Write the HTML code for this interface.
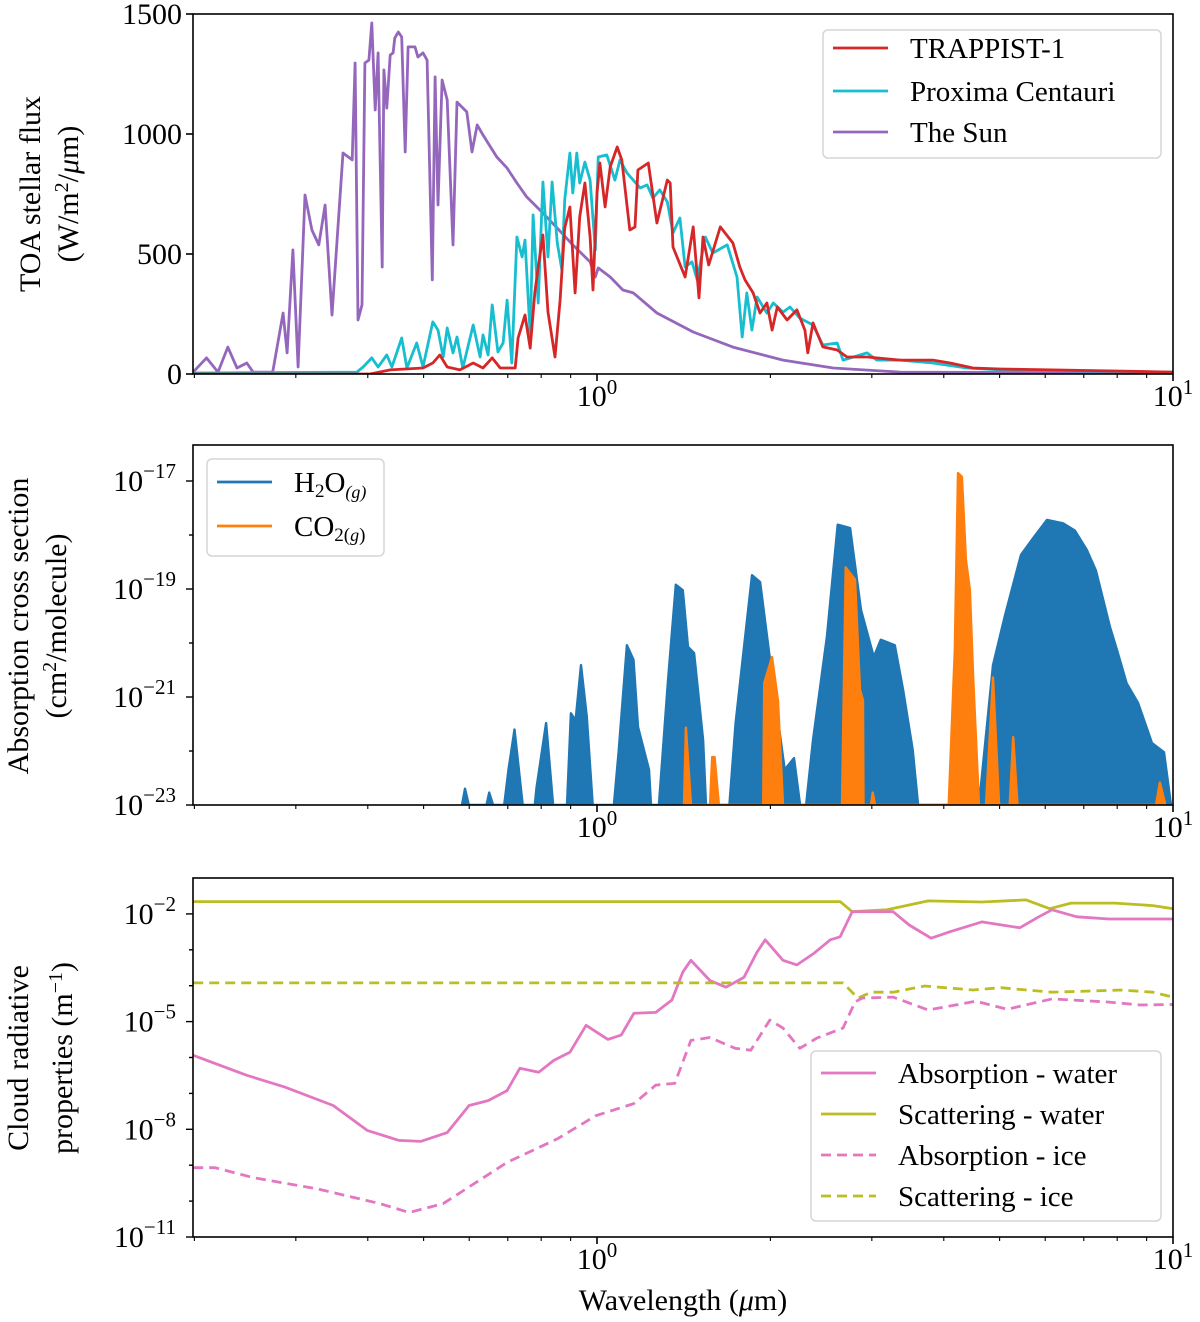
<!DOCTYPE html>
<html><head><meta charset="utf-8"><style>
html,body{margin:0;padding:0;background:#fff;}
svg{display:block;font-family:"Liberation Serif","DejaVu Serif",serif;}
</style></head><body>
<svg id="chart" xmlns="http://www.w3.org/2000/svg" width="1200" height="1322" viewBox="0 0 1200 1322">
<g id="layer-marks"></g>
<g id="layer-axes"></g>
</svg>
<script>
// ---------- DATA ----------
// Panel 1: TOA stellar flux (log10 wavelength in µm, flux in W/m2/µm)
const sunLogWl = [-0.701,-0.678,-0.658,-0.641,-0.625,-0.608,-0.597,-0.563,-0.545,-0.538,-0.528,-0.519,-0.507,-0.495,-0.483,-0.472,-0.460,-0.441,-0.425,-0.420,-0.415,-0.408,-0.403,-0.396,-0.391,-0.385,-0.380,-0.373,-0.370,-0.365,-0.359,-0.354,-0.351,-0.345,-0.339,-0.333,-0.328,-0.316,-0.311,-0.302,-0.295,-0.286,-0.281,-0.276,-0.269,-0.260,-0.250,-0.243,-0.226,-0.217,-0.208,-0.198,-0.174,-0.156,-0.139,-0.122,-0.099,-0.069,-0.042,-0.012,-0.003,0.002,0.023,0.045,0.063,0.104,0.167,0.236,0.323,0.410,0.526,1.0];
const sunFlux = [8,67,8,112,25,46,8,8,254,88,517,29,746,600,538,704,246,921,892,1296,225,288,1296,1308,1463,1100,1338,446,1267,1108,1329,1338,1400,1425,1404,925,1363,1363,1321,1338,1308,392,1238,704,1225,1142,538,1133,1092,925,1038,996,904,858,796,738,683,608,538,467,404,442,404,350,338,254,175,112,58,25,8,4];
const proxLogWl = [-0.701,-0.417,-0.406,-0.391,-0.380,-0.365,-0.356,-0.339,-0.330,-0.313,-0.302,-0.285,-0.276,-0.267,-0.260,-0.250,-0.243,-0.233,-0.215,-0.203,-0.198,-0.189,-0.182,-0.172,-0.163,-0.156,-0.148,-0.139,-0.130,-0.125,-0.116,-0.111,-0.102,-0.094,-0.085,-0.078,-0.069,-0.061,-0.056,-0.047,-0.042,-0.035,-0.030,-0.021,-0.012,-0.003,0.002,0.017,0.031,0.040,0.052,0.075,0.087,0.097,0.109,0.122,0.132,0.144,0.153,0.165,0.174,0.188,0.201,0.226,0.243,0.252,0.260,0.269,0.278,0.295,0.306,0.323,0.335,0.352,0.375,0.392,0.417,0.427,0.469,0.486,0.526,0.583,0.642,0.700,1.0];
const proxFlux = [4,8,29,67,29,79,29,150,25,129,29,217,183,71,192,88,154,25,204,71,163,79,288,92,129,308,46,571,488,558,163,663,296,800,488,800,546,433,725,921,754,921,796,883,808,517,904,913,808,892,838,775,788,733,767,717,588,650,446,467,392,571,504,538,404,154,338,183,321,254,296,258,279,233,204,121,129,58,88,58,58,46,25,17,8];
const trapLogWl = [-0.701,-0.394,-0.359,-0.302,-0.285,-0.273,-0.260,-0.238,-0.215,-0.198,-0.182,-0.168,-0.142,-0.137,-0.125,-0.116,-0.108,-0.102,-0.094,-0.085,-0.073,-0.064,-0.056,-0.047,-0.038,-0.030,-0.021,-0.012,-0.007,0,0.005,0.014,0.023,0.035,0.043,0.057,0.066,0.071,0.089,0.104,0.122,0.127,0.132,0.153,0.167,0.177,0.184,0.194,0.214,0.236,0.248,0.257,0.271,0.283,0.295,0.304,0.313,0.330,0.347,0.361,0.366,0.375,0.392,0.417,0.434,0.469,0.526,0.583,0.613,0.653,0.700,1.0];
const trapFlux = [0,0,17,25,46,79,29,17,46,25,67,25,25,150,246,108,338,446,579,258,71,308,608,696,338,654,796,571,350,754,879,696,863,946,892,600,613,850,879,629,808,796,529,404,613,317,571,454,613,546,446,392,338,254,296,183,279,225,267,183,88,213,113,100,71,71,58,58,46,25,21,8];
const fluxTicks = [0,500,1000,1500];

// Panel 2: absorption cross sections (wavelength µm, cm2/molecule)
const h2oWl = [0.583,0.590,0.599,0.643,0.650,0.660,0.690,0.702,0.719,0.743,0.780,0.785,0.816,0.839,0.887,0.901,0.918,0.938,0.960,0.983,1.070,1.090,1.127,1.157,1.178,1.231,1.241,1.281,1.327,1.370,1.409,1.439,1.474,1.528,1.546,1.698,1.740,1.858,1.919,2.021,2.118,2.198,2.252,2.307,2.371,2.507,2.617,2.750,2.873,3.024,3.110,3.289,3.399,3.532,3.609,4.605,4.870,5.110,5.447,5.713,6.042,6.442,6.758,7.090,7.349,7.772,7.993,8.307,8.696,9.195,9.647,9.92];
const h2oSigma = [1e-23,2.0e-23,1e-23,1e-23,1.7e-23,1e-23,1e-23,4.5e-23,2.5e-22,1e-23,1e-23,2.0e-23,3.3e-22,1e-23,1e-23,5.0e-22,3.7e-22,3.9e-21,4.3e-22,1e-23,1e-23,9.5e-23,9.1e-21,4.9e-21,2.8e-22,4.5e-23,1e-23,1e-23,1.8e-21,1.2e-19,9.5e-20,8.5e-21,6.5e-21,1.6e-22,1e-23,1e-23,3.3e-22,1.8e-19,1.35e-19,1.8e-21,4.5e-23,7.4e-23,1e-23,1e-23,1.6e-22,1.3e-20,1.55e-18,1.35e-18,4.1e-20,5.5e-21,1.15e-20,9.1e-21,1.35e-21,1.05e-22,1e-23,1e-23,3.9e-21,3.3e-20,4.3e-19,8.7e-19,1.9e-18,1.65e-18,1.2e-18,5.2e-19,2.2e-19,2.0e-20,7.4e-21,1.8e-21,7.8e-22,1.4e-22,9.5e-23,1e-23];
const co2Wl = [1.416,1.427,1.456,1.571,1.585,1.600,1.628,1.943,1.951,2.013,2.062,2.103,2.663,2.703,2.805,2.862,2.896,2.902,2.990,3.010,3.040,4.080,4.180,4.234,4.300,4.370,4.440,4.500,4.605,4.735,4.870,4.990,5.205,5.280,5.370,9.343,9.490,9.700];
const co2Sigma = [1e-23,2.7e-22,1e-23,1e-23,7.7e-23,7.7e-23,1e-23,1e-23,1.8e-21,5.5e-21,8.5e-22,1e-23,1e-23,2.5e-19,1.5e-19,1.35e-21,8.7e-22,1e-23,1e-23,1.7e-23,1e-23,1e-23,7.4e-21,1.4e-17,1.2e-17,3.5e-19,9.5e-20,2.0e-21,1e-23,1e-23,2.3e-21,1e-23,1e-23,1.8e-22,1e-23,1e-23,2.6e-23,1e-23];
const sigmaTickExp = [-23,-21,-19,-17];

// Panel 3: cloud radiative properties (log10 wavelength µm, m^-1)
const absWaterLogWl = [-0.701,-0.608,-0.542,-0.458,-0.399,-0.344,-0.306,-0.260,-0.222,-0.189,-0.156,-0.134,-0.101,-0.075,-0.047,-0.019,0.019,0.042,0.064,0.102,0.130,0.149,0.163,0.196,0.224,0.255,0.278,0.292,0.323,0.347,0.377,0.405,0.422,0.443,0.514,0.542,0.580,0.613,0.668,0.734,0.767,0.790,0.833,0.889,1.0];
const absWater = [1.15e-6,3.2e-7,1.5e-7,4.6e-8,9.3e-9,4.9e-9,4.6e-9,8.1e-9,4.6e-8,6.3e-8,1.2e-7,5.0e-7,3.9e-7,8.3e-7,1.4e-6,7.9e-6,3.2e-6,4.2e-6,1.7e-5,1.8e-5,4.0e-5,2.4e-4,5.1e-4,1.4e-4,9.1e-5,1.7e-4,8.7e-4,1.9e-3,5.1e-4,3.8e-4,8.1e-4,1.9e-3,2.3e-3,1.15e-2,1.15e-2,4.9e-3,2.1e-3,3.2e-3,6.0e-3,4.1e-3,8.3e-3,1.3e-2,8.3e-3,7.2e-3,7.2e-3];
const scaWaterLogWl = [-0.701,0.300,0.422,0.443,0.503,0.575,0.668,0.745,0.786,0.823,0.899,0.965,1.0];
const scaWater = [2.2e-2,2.2e-2,2.2e-2,1.15e-2,1.3e-2,2.3e-2,2.15e-2,2.45e-2,1.4e-2,2.0e-2,2.0e-2,1.7e-2,1.4e-2];
const absIceLogWl = [-0.701,-0.663,-0.597,-0.486,-0.377,-0.326,-0.267,-0.156,-0.068,-0.002,0.064,0.102,0.135,0.163,0.196,0.240,0.267,0.300,0.323,0.352,0.382,0.427,0.448,0.460,0.514,0.575,0.658,0.712,0.790,0.889,0.944,1.0];
const absIce = [8.5e-10,8.5e-10,4.5e-10,2.2e-10,8.5e-11,4.8e-11,8.5e-11,1.2e-9,5.5e-9,2.4e-8,5.2e-8,1.7e-7,1.9e-7,3.0e-6,3.6e-6,1.8e-6,1.6e-6,1.1e-5,6.6e-6,1.8e-6,3.5e-6,6.6e-6,3.5e-5,4.5e-5,4.8e-5,2.1e-5,3.7e-5,2.2e-5,4.3e-5,3.5e-5,2.9e-5,3.0e-5];
const scaIceLogWl = [-0.701,0.427,0.453,0.476,0.514,0.569,0.653,0.701,0.790,0.911,0.965,1.0];
const scaIce = [1.2e-4,1.2e-4,4.5e-5,6.6e-5,6.6e-5,9.8e-5,7.6e-5,8.8e-5,6.6e-5,7.6e-5,6.6e-5,4.8e-5];
const cloudTickExp = [-11,-8,-5,-2];

// ---------- AXES ----------
const NS='http://www.w3.org/2000/svg';
const X0=193, X1=1173, DEC=576, XC=597;
function xLog(lw){return XC+lw*DEC;}
function xWl(w){return XC+Math.log10(w)*DEC;}
const P1={top:14,bottom:374}, P2={top:445,bottom:805}, P3={top:878,bottom:1237};
function y1(v){return P1.bottom-v*(P1.bottom-P1.top)/1500;}
function y2(v){return P2.bottom-(Math.log10(v)+23)*54;}
function y3(v){return P3.bottom-(Math.log10(v)+11)*35.9;}
const marks=document.getElementById('layer-marks');
const axes=document.getElementById('layer-axes');
function mk(tag,attrs,parent){const e=document.createElementNS(NS,tag);for(const k in attrs)e.setAttribute(k,attrs[k]);(parent||marks).appendChild(e);return e;}

function clip(id,p){const d=mk('clipPath',{id:id});mk('rect',{x:X0,y:p.top,width:X1-X0,height:p.bottom-p.top},d);}
clip('c1',P1);clip('c2',P2);clip('c3',P3);

function line(xs,ys,fx,fy,color,name,dash,cl){
  const pts=xs.map((v,i)=>fx(v).toFixed(1)+','+fy(ys[i]).toFixed(1)).join(' ');
  const el=mk('polyline',{points:pts,fill:'none',stroke:color,'stroke-width':2.8,'stroke-linejoin':'round','clip-path':'url(#'+cl+')'});
  if(dash)el.setAttribute('stroke-dasharray',dash);
  
  
}
function area(xs,ys,fx,fy,color,name,cl,base){
  let pts=fx(xs[0]).toFixed(1)+','+base+' ';
  pts+=xs.map((v,i)=>fx(v).toFixed(1)+','+fy(ys[i]).toFixed(1)).join(' ');
  pts+=' '+fx(xs[xs.length-1]).toFixed(1)+','+base;
  const el=mk('polygon',{points:pts,fill:color,stroke:color,'stroke-width':2.4,'stroke-linejoin':'round','clip-path':'url(#'+cl+')'});
  
  
}

// Panel 1
line(sunLogWl,sunFlux,xLog,y1,'#9467bd','sun-spectrum',null,'c1');
line(proxLogWl,proxFlux,xLog,y1,'#17becf','proxima-centauri-spectrum',null,'c1');
line(trapLogWl,trapFlux,xLog,y1,'#d62728','trappist-1-spectrum',null,'c1');
// Panel 2
area(h2oWl,h2oSigma,xWl,y2,'#1f77b4','h2o-cross-section','c2',P2.bottom);
area(co2Wl,co2Sigma,xWl,y2,'#ff7f0e','co2-cross-section','c2',P2.bottom);
// Panel 3
line(scaWaterLogWl,scaWater,xLog,y3,'#bcbd22','scattering-water-line',null,'c3');
line(absWaterLogWl,absWater,xLog,y3,'#e377c2','absorption-water-line',null,'c3');
line(scaIceLogWl,scaIce,xLog,y3,'#bcbd22','scattering-ice-line','10,6','c3');
line(absIceLogWl,absIce,xLog,y3,'#e377c2','absorption-ice-line','10,6','c3');

function txt(x,y,s,size,anchor,name,parent){const t=mk('text',{x:x,y:y,'font-size':size,'text-anchor':anchor||'start',fill:'#000'},parent||axes);t.innerHTML=s;return t;}

function frame(p,name){
  const r=mk('rect',{x:X0,y:p.top,width:X1-X0,height:p.bottom-p.top,fill:'none',stroke:'#000','stroke-width':1.6},axes);
  
  
  for(let d=-1;d<=1;d++){for(let m=1;m<10;m++){const lw=d+Math.log10(m);const x=xLog(lw);if(x<X0-0.5||x>X1+0.5)continue;
    const major=(m===1);mk('line',{x1:x,x2:x,y1:p.bottom,y2:p.bottom+(major?7:4),stroke:'#000','stroke-width':major?1.6:1.1},axes);}}
  txt(xLog(0),p.bottom+32,'10<tspan dy="-12" font-size="21">0</tspan>',30,'middle','x-tick-label-1e0');
  txt(xLog(1),p.bottom+32,'10<tspan dy="-12" font-size="21">1</tspan>',30,'middle','x-tick-label-1e1');
}
frame(P1,'panel-flux-frame');frame(P2,'panel-cross-section-frame');frame(P3,'panel-cloud-frame');

fluxTicks.forEach(v=>{const y=y1(v);mk('line',{x1:X0-7,x2:X0,y1:y,y2:y,stroke:'#000','stroke-width':1.6},axes);txt(182,y+10,String(v),30,'end','flux-tick-label');});
for(let e=-23;e<=-17;e++){const y=y2(Math.pow(10,e));mk('line',{x1:X0-(e%2?7:4),x2:X0,y1:y,y2:y,stroke:'#000','stroke-width':1.4},axes);}
sigmaTickExp.forEach(e=>{const y=y2(Math.pow(10,e));txt(176,y+10,'10<tspan dy="-13" font-size="21">−'+(-e)+'</tspan>',30,'end','sigma-tick-label');});
for(let e=-11;e<=-2;e++){const y=y3(Math.pow(10,e));if(y<P3.top)continue;mk('line',{x1:X0-((e+11)%3===0?7:4),x2:X0,y1:y,y2:y,stroke:'#000','stroke-width':1.4},axes);}
cloudTickExp.forEach(e=>{const y=y3(Math.pow(10,e));txt(176,y+10,'10<tspan dy="-13" font-size="21">−'+(-e)+'</tspan>',30,'end','cloud-tick-label');});

function vtxt(x,y,s,name){const t=txt(0,0,s,30,'middle',name);t.setAttribute('transform','translate('+x+','+y+') rotate(-90)');}
vtxt(40,194,'TOA stellar flux','flux-axis-title');
vtxt(78,194,'(W/m<tspan dy="-10" font-size="20">2</tspan><tspan dy="10">/</tspan><tspan font-style="italic">μ</tspan>m)','flux-axis-units');
vtxt(28,626,'Absorption cross section','cross-section-axis-title');
vtxt(66,626,'(cm<tspan dy="-10" font-size="20">2</tspan><tspan dy="10">/molecule)</tspan>','cross-section-axis-units');
vtxt(28,1058,'Cloud radiative','cloud-axis-title');
vtxt(72,1058,'properties (m<tspan dy="-10" font-size="20">−1</tspan><tspan dy="10">)</tspan>','cloud-axis-units');
txt(683,1310,'Wavelength (<tspan font-style="italic">μ</tspan>m)','30','middle','x-axis-title');

function legend(x,y,w,h,items,name){
  const g=mk('g',{},axes);
  mk('rect',{x:x,y:y,width:w,height:h,rx:5,fill:'#fff','fill-opacity':0.85,stroke:'#d6d6d6','stroke-width':1.5},g);
  items.forEach(it=>{
    const l=mk('line',{x1:x+10,x2:x+65,y1:it.y,y2:it.y,stroke:it.c,'stroke-width':2.8},g);
    if(it.dash)l.setAttribute('stroke-dasharray','10,6');
    txt(x+87,it.y+10,it.t,29,'start','legend-entry',g);
  });
}
legend(823,30,338,128,[{y:48,c:'#d62728',t:'TRAPPIST-1'},{y:91,c:'#17becf',t:'Proxima Centauri'},{y:132,c:'#9467bd',t:'The Sun'}],'flux-legend');
legend(207,459,177,97,[{y:482,c:'#1f77b4',t:'H<tspan dy="5" font-size="19">2</tspan><tspan dy="-5">O</tspan><tspan dy="6" font-size="18" font-style="italic">(g)</tspan>'},{y:526,c:'#ff7f0e',t:'CO<tspan dy="5" font-size="19">2(</tspan><tspan font-size="18" font-style="italic">g</tspan><tspan font-size="19">)</tspan>'}],'cross-section-legend');
legend(811,1051,350,170,[{y:1073,c:'#e377c2',t:'Absorption - water'},{y:1114,c:'#bcbd22',t:'Scattering - water'},{y:1155,c:'#e377c2',t:'Absorption - ice',dash:1},{y:1196,c:'#bcbd22',t:'Scattering - ice',dash:1}],'cloud-legend');
</script>
</body></html>
